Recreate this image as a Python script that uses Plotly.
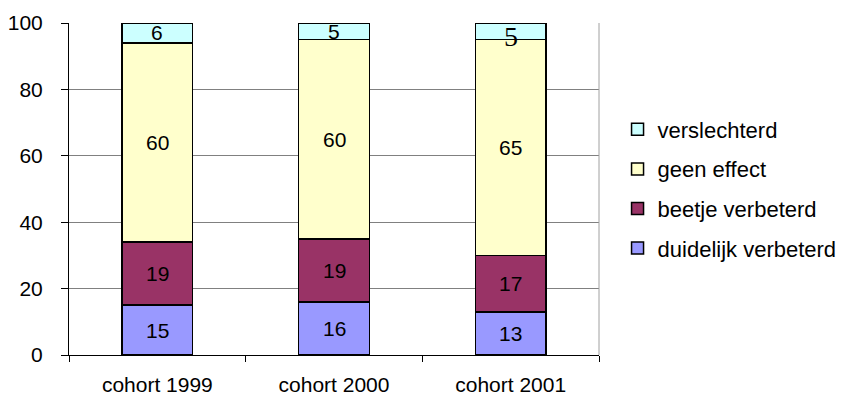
import plotly.graph_objects as go

categories = ["cohort 1999", "cohort 2000", "cohort 2001"]
duidelijk_verbeterd = [15, 16, 13]
beetje_verbeterd = [19, 19, 17]
geen_effect = [60, 60, 65]
verslechterd = [6, 5, 5]
y_ticks = [0, 20, 40, 60, 80, 100]

series = [
    ("duidelijk verbeterd", duidelijk_verbeterd, "#9999FF"),
    ("beetje verbeterd", beetje_verbeterd, "#993366"),
    ("geen effect", geen_effect, "#FFFFCC"),
    ("verslechterd", verslechterd, "#CCFFFF"),
]

sans = "Liberation Sans, Arial, sans-serif"
serif = "Liberation Serif, Times New Roman, serif"

fig = go.Figure()
base = [0] * len(categories)
for k, (name, vals, color) in enumerate(series):
    fig.add_trace(go.Bar(
        x=categories, y=vals, name=name, legendgroup=name,
        legendrank=len(series) - k,
        marker=dict(color=color, line=dict(color="black", width=1.5)),
        width=0.4,
    ))
    # value labels centred in each segment
    for i, v in enumerate(vals):
        serif_label = (name == "verslechterd" and i == 2)
        fig.add_annotation(
            x=categories[i], y=base[i] + v / 2, text=str(v), showarrow=False,
            font=dict(family=serif if serif_label else sans,
                      size=28 if serif_label else 21, color="black"),
            yshift=-5 if serif_label else 0,
        )
        base[i] += v

fig.update_layout(
    barmode="stack",
    width=849, height=401,
    margin=dict(l=69, r=250, t=23, b=46, autoexpand=False),
    paper_bgcolor="white", plot_bgcolor="white",
    font=dict(family=sans, size=21, color="black"),
    showlegend=True,
    legend=dict(
        traceorder="grouped", x=1.035, y=0.5, yanchor="middle",
        xanchor="left", font=dict(size=22), tracegroupgap=8,
        bgcolor="rgba(0,0,0,0)",
    ),
    xaxis=dict(
        showline=True, linecolor="black", linewidth=1,
        ticks="outside", ticklen=6, tickcolor="black",
        tickson="boundaries", showgrid=False, automargin=False,
        tickfont=dict(size=21), ticklabelstandoff=11,
    ),
    yaxis=dict(
        range=[0, 100], tickvals=y_ticks, showline=True, linecolor="black",
        linewidth=1, ticks="outside", ticklen=7, tickcolor="black",
        showgrid=True, gridcolor="#808080", gridwidth=1, automargin=False,
        tickfont=dict(size=21), zeroline=False, ticklabelstandoff=14,
    ),
)
fig.add_shape(type="line", xref="paper", yref="paper", x0=1, x1=1, y0=0, y1=1,
              line=dict(color="#A0A0A0", width=1))

fig.write_html("out.html")
